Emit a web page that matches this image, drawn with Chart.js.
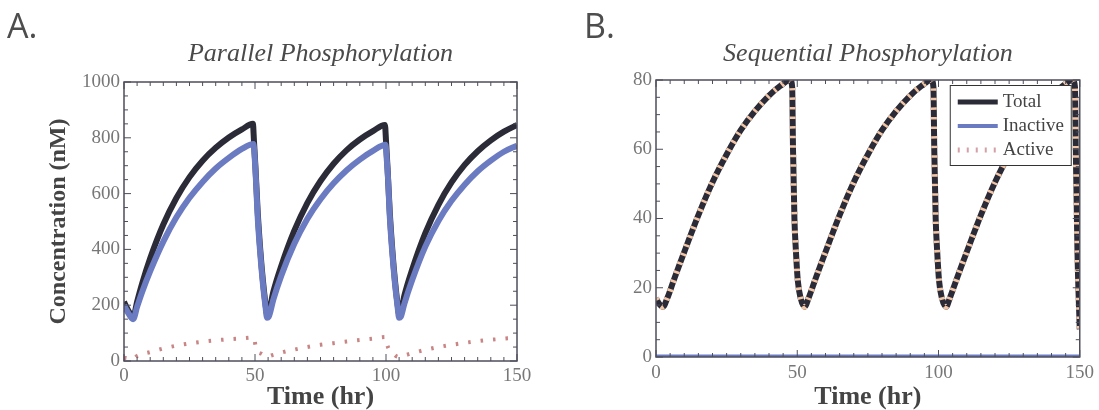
<!DOCTYPE html>
<html>
<head>
<meta charset="utf-8">
<script src="https://cdn.jsdelivr.net/npm/chart.js@4.4.0/dist/chart.umd.min.js"></script>
<style>
  html, body { margin: 0; padding: 0; background: #fff; }
  #page { position: relative; width: 1099px; height: 410px; overflow: hidden; }
  .panel { position: absolute; top: 0; height: 410px; }
  .tag { position: absolute; top: 8px; font-family: 'Open Sans', sans-serif; font-size: 34px; line-height: 1; color: #4d4d4d; }
</style>
</head>
<body>
<div id="page">
  <div class="panel" style="left:0;width:550px"><canvas id="chartA"></canvas></div>
  <div class="panel" style="left:550px;width:549px"><canvas id="chartB"></canvas></div>
  <div class="tag" style="left:7px">A.</div>
  <div class="tag" style="left:584px">B.</div>
</div>
<script>
// Panel A - parallel phosphorylation
const timeTotalA = [0, 1, 2, 3, 3.6, 5, 7, 10, 15, 20, 25, 30, 35, 40, 45, 49.2, 49.6, 50.2, 51, 52, 53, 54, 54.6, 55.2, 57, 60, 65, 70, 75, 80, 85, 90, 95, 99.6, 100, 100.6, 101.4, 102.4, 103.4, 104.4, 105, 105.6, 107, 110, 115, 120, 125, 130, 135, 140, 145, 150];
const totalA = [212, 192, 175, 164, 160, 212, 280, 368, 489, 584, 659, 718, 764, 801, 830, 850, 790, 690, 540, 400, 290, 205, 168, 172, 248, 340, 467, 567, 645, 707, 756, 794, 824, 846, 790, 690, 540, 400, 290, 205, 168, 172, 234, 328, 458, 560, 640, 703, 752, 791, 822, 846];

const timeInactiveA = [0, 1, 2, 3, 3.5, 5, 7, 10, 15, 20, 25, 30, 35, 40, 45, 49.4, 49.8, 50.3, 51, 52, 53, 54, 54.6, 55.2, 57, 60, 65, 70, 75, 80, 85, 90, 95, 99.8, 100.2, 100.8, 101.4, 102.4, 103.4, 104.4, 105, 105.6, 107, 110, 115, 120, 125, 130, 135, 140, 145, 150];
const inactiveA = [200, 182, 166, 153, 150, 194, 249, 322, 428, 515, 585, 642, 690, 728, 760, 778, 740, 660, 520, 385, 278, 195, 155, 158, 220, 305, 420, 510, 580, 637, 684, 722, 753, 775, 735, 650, 525, 388, 280, 196, 155, 158, 205, 290, 410, 502, 574, 632, 680, 718, 750, 772];

const timeActiveA = [0, 2, 3.5, 5, 10, 15, 20, 25, 30, 35, 40, 45, 49.6, 50.2, 51, 52.5, 54.5, 57, 60, 65, 70, 75, 80, 85, 90, 95, 99.8, 100.4, 101, 102.5, 104.6, 107, 110, 115, 120, 125, 130, 135, 140, 145, 150];
const activeA = [12, 9, 7, 18, 32, 45, 55, 63, 69, 74, 78, 81, 84, 55, 34, 26, 16, 22, 30, 41, 50, 58, 64, 70, 75, 80, 86, 60, 44, 30, 15, 20, 28, 40, 50, 58, 65, 71, 76, 80, 84];

// Panel B - sequential phosphorylation
const timeB = [0, 1, 2.5, 4, 6, 8, 11, 15, 20, 25, 30, 35, 40, 44, 47.5, 48.2, 48.5, 49, 49.5, 50.2, 51.2, 52.6, 54, 56, 58, 61, 65, 70, 75, 80, 85, 90, 94, 97.5, 98.2, 98.5, 99, 99.5, 100.2, 101.2, 102.7, 104, 106, 108, 111, 115, 120, 125, 130, 135, 140, 144, 147.5, 148.3, 148.6, 149.2, 150];
const totalB = [17, 15.5, 14.5, 17, 21.5, 26, 32.5, 41, 50.5, 58.5, 65.5, 71, 75.5, 78.3, 80, 78, 60, 40, 31, 22, 17, 14.5, 17, 21.5, 26, 32.5, 41, 50.5, 58.5, 65.5, 71, 75.5, 78.3, 80, 78, 60, 40, 31, 22, 17, 14.5, 17, 21.5, 26, 32.5, 41, 50.5, 58.5, 65.5, 71, 75.5, 78.3, 80, 78, 60, 30, 8];
const activeB = [17, 15.5, 14.5, 17, 21.5, 26, 32.5, 41, 50.5, 58.5, 65.5, 71, 75.5, 78.3, 80, 78, 60, 40, 31, 22, 17, 14.5, 17, 21.5, 26, 32.5, 41, 50.5, 58.5, 65.5, 71, 75.5, 78.3, 80, 78, 60, 40, 31, 22, 17, 14.5, 17, 21.5, 26, 32.5, 41, 50.5, 58.5, 65.5, 71, 75.5, 78.3, 80, 78, 60, 30, 8];
const timeInactiveB = [0, 150];
const inactiveB = [0, 0];

const timeTicks = [0, 50, 100, 150];
const seriesLabels = ['Total', 'Inactive', 'Active'];
const titles = ['Parallel Phosphorylation', 'Sequential Phosphorylation'];

const serif = "'Liberation Serif', 'Times New Roman', serif";
const colTotal = '#2b2b38';
const colInactive = '#6b7bc1';
const colActive = '#c98585';
const colPeach = '#f0c4a4';

function pts(xs, ys) {
    return xs.map((x, i) => ({ x: x, y: ys[i] }));
}

// Mathematica-style frame with inward ticks on all four sides
const frameTicks = {
    id: 'frameTicks',
    afterDatasetsDraw(chart, args, opts) {
        const { ctx, chartArea: a, scales: { x, y } } = chart;
        ctx.save();
        ctx.strokeStyle = '#4e4e5c';
        ctx.lineWidth = 1;
        const line = (x0, y0, x1, y1) => {
            ctx.beginPath(); ctx.moveTo(x0, y0); ctx.lineTo(x1, y1); ctx.stroke();
        };
        for (let v = x.min; v <= x.max + 1e-6; v += opts.xMinor) {
            const len = Math.abs(v % opts.xMajor) < 1e-6 ? 7 : 4;
            const px = x.getPixelForValue(v);
            line(px, a.bottom, px, a.bottom - len);
            line(px, a.top, px, a.top + len);
        }
        for (let v = y.min; v <= y.max + 1e-6; v += opts.yMinor) {
            const len = Math.abs(v % opts.yMajor) < 1e-6 ? 7 : 4;
            const py = y.getPixelForValue(v);
            line(a.left, py, a.left + len, py);
            line(a.right, py, a.right - len, py);
        }
        ctx.lineWidth = 1.5;
        ctx.strokeRect(a.left, a.top, a.right - a.left, a.bottom - a.top);
        ctx.restore();
    }
};

// Boxed legend inside the plot (panel B)
const boxLegend = {
    id: 'boxLegend',
    afterDraw(chart, args, opts) {
        if (!opts.items) return;
        const { ctx, chartArea: a } = chart;
        const w = 121, h = 80;
        const left = a.right - 9 - w, top = a.top + 5;
        ctx.save();
        ctx.fillStyle = '#ffffff';
        ctx.fillRect(left, top, w, h);
        ctx.strokeStyle = '#333';
        ctx.lineWidth = 1;
        ctx.strokeRect(left + 0.5, top + 0.5, w, h);
        opts.items.forEach((it, i) => {
            const yy = top + 17 + i * 24;
            ctx.beginPath();
            ctx.strokeStyle = it.color;
            ctx.lineWidth = it.width;
            ctx.setLineDash(it.dash || []);
            ctx.moveTo(left + 8, yy);
            ctx.lineTo(left + 48, yy);
            ctx.stroke();
            ctx.setLineDash([]);
            ctx.fillStyle = '#444';
            ctx.font = '19px ' + serif;
            ctx.textBaseline = 'middle';
            ctx.fillText(it.text, left + 53, yy);
        });
        ctx.restore();
    }
};

function makeChart(id, cfg) {
    return new Chart(document.getElementById(id), {
        type: 'line',
        data: { datasets: cfg.datasets },
        options: {
            responsive: true,
            maintainAspectRatio: false,
            animation: false,
            layout: { padding: { left: 0, right: cfg.padRight, top: 0, bottom: 0 } },
            elements: {
                point: { radius: 0 },
                line: { cubicInterpolationMode: 'monotone' }
            },
            plugins: {
                legend: { display: false },
                tooltip: { enabled: false },
                title: {
                    display: true,
                    text: cfg.title,
                    fullSize: false,
                    color: '#4a4a4a',
                    font: { family: serif, size: 26, style: 'italic', weight: 'normal', lineHeight: 1 },
                    padding: { top: 41, bottom: cfg.titleGap }
                },
                frameTicks: cfg.ticks,
                boxLegend: { items: cfg.legend }
            },
            scales: {
                x: {
                    type: 'linear',
                    min: 0, max: 150,
                    afterBuildTicks: s => { s.ticks = timeTicks.map(v => ({ value: v })); },
                    grid: { display: false, drawTicks: false },
                    border: { display: false },
                    ticks: { color: '#777', padding: cfg.xPad, font: { family: serif, size: 19 }, callback: v => String(v) },
                    title: {
                        display: true, text: 'Time (hr)', color: '#444',
                        font: { family: serif, size: 26, weight: 'bold', lineHeight: 1 },
                        padding: { top: 0, bottom: 0 }
                    },
                    afterFit: s => { s.height = cfg.xHeight; }
                },
                y: {
                    type: 'linear',
                    min: 0, max: cfg.yMax,
                    grid: { display: false, drawTicks: false },
                    border: { display: false },
                    ticks: { stepSize: cfg.yStep, color: '#777', padding: 4, font: { family: serif, size: 19 }, callback: v => String(v) },
                    title: {
                        display: !!cfg.yTitle, text: cfg.yTitle || '', color: '#444',
                        font: { family: serif, size: 24, weight: 'bold', lineHeight: 1 },
                        padding: { top: 47, bottom: 0 }
                    },
                    afterFit: s => { s.width = cfg.yWidth; }
                }
            }
        },
        plugins: [frameTicks, boxLegend]
    });
}

makeChart('chartA', {
    title: titles[0],
    padRight: 33, titleGap: 15, xHeight: 49, yWidth: 124, xPad: 4,
    yMax: 1000, yStep: 200,
    yTitle: 'Concentration (nM)',
    ticks: { xMinor: 5, xMajor: 50, yMinor: 50, yMajor: 200 },
    datasets: [
        { label: seriesLabels[0], data: pts(timeTotalA, totalA), borderColor: colTotal, borderWidth: 6, order: 3 },
        { label: seriesLabels[1], data: pts(timeInactiveA, inactiveA), borderColor: colInactive, borderWidth: 6, order: 2 },
        { label: seriesLabels[2], data: pts(timeActiveA, activeA), borderColor: colActive, borderWidth: 4, borderDash: [2.5, 10], order: 1 }
    ]
});

makeChart('chartB', {
    title: titles[1],
    padRight: 17, titleGap: 13, xHeight: 53, yWidth: 106, xPad: 5,
    yMax: 80, yStep: 20,
    ticks: { xMinor: 5, xMajor: 50, yMinor: 5, yMajor: 20 },
    legend: [
        { text: seriesLabels[0], color: colTotal, width: 5 },
        { text: seriesLabels[1], color: colInactive, width: 4 },
        { text: seriesLabels[2], color: '#d4a0a8', width: 5, dash: [2, 7] }
    ],
    datasets: [
        { label: seriesLabels[0], data: pts(timeB, totalB), borderColor: colTotal, borderWidth: 6, order: 2 },
        { label: seriesLabels[1], data: pts(timeInactiveB, inactiveB), borderColor: colInactive, borderWidth: 5, order: 3 },
        { label: seriesLabels[2], data: pts(timeB, activeB), borderColor: colPeach, borderWidth: 6, borderDash: [2.5, 7], order: 1 }
    ]
});
</script>
</body>
</html>
